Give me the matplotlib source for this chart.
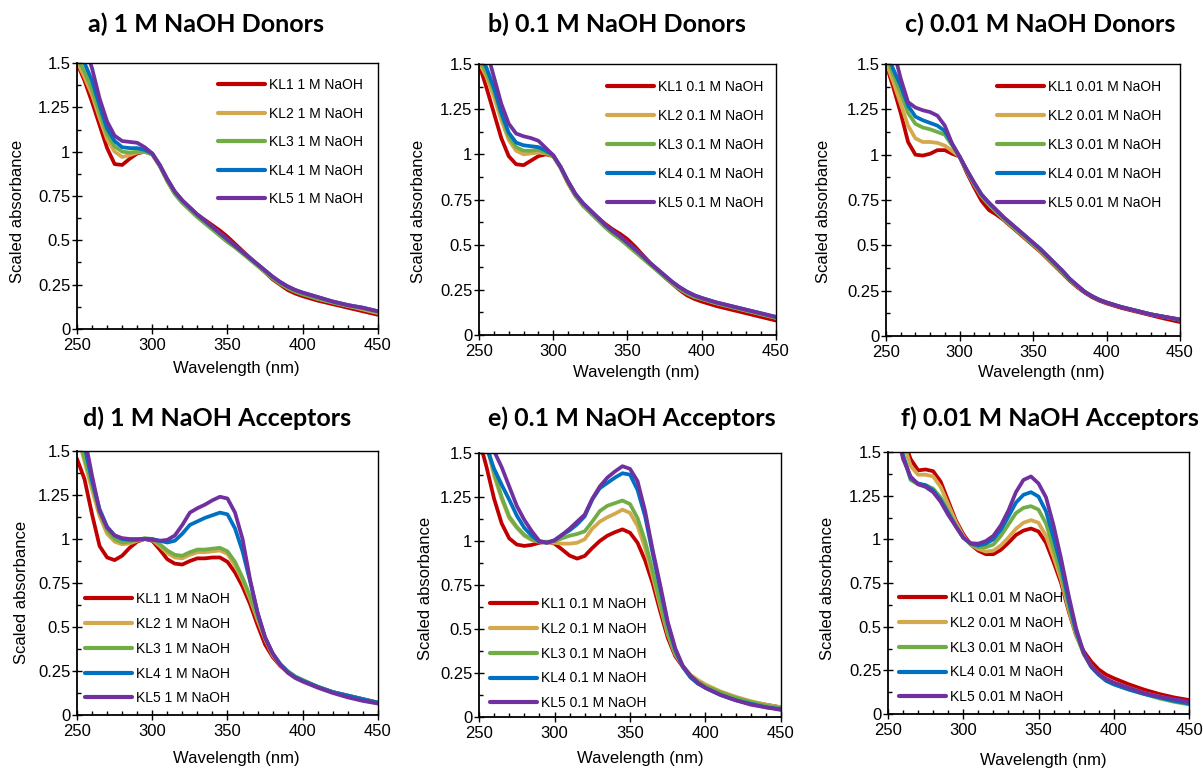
import matplotlib
matplotlib.use("Agg")
import matplotlib.pyplot as plt
from matplotlib.ticker import MultipleLocator

# ---------------- data ----------------
wavelength = [250, 255, 260, 265, 270, 275, 280, 285, 290, 295, 300, 305, 310, 315, 320, 325,
              330, 335, 340, 345, 350, 355, 360, 365, 370, 375, 380, 385, 390, 395, 400,
              410, 420, 430, 440, 450]

series_names = ["KL1", "KL2", "KL3", "KL4", "KL5"]

# a) 1 M NaOH donors
a_kl1 = [1.50, 1.40, 1.28, 1.15, 1.02, 0.93, 0.925, 0.96, 0.99, 1.00, 0.985, 0.92, 0.835, 0.765, 0.72, 0.68,
         0.645, 0.615, 0.585, 0.555, 0.52, 0.48, 0.44, 0.40, 0.36, 0.32, 0.28, 0.25, 0.22, 0.20, 0.185,
         0.16, 0.14, 0.12, 0.10, 0.08]
a_kl2 = [1.51, 1.42, 1.32, 1.19, 1.07, 1.00, 0.97, 0.98, 0.995, 1.00, 0.985, 0.92, 0.835, 0.765, 0.715, 0.675,
         0.635, 0.60, 0.565, 0.53, 0.495, 0.465, 0.43, 0.395, 0.36, 0.325, 0.29, 0.26, 0.235, 0.215, 0.20,
         0.17, 0.15, 0.13, 0.11, 0.09]
a_kl3 = [1.53, 1.45, 1.35, 1.22, 1.10, 1.03, 1.00, 0.995, 1.00, 1.00, 0.985, 0.92, 0.835, 0.76, 0.71, 0.67,
         0.63, 0.595, 0.56, 0.525, 0.49, 0.46, 0.425, 0.39, 0.355, 0.32, 0.285, 0.255, 0.23, 0.21, 0.195,
         0.17, 0.15, 0.13, 0.115, 0.095]
a_kl4 = [1.58, 1.50, 1.40, 1.26, 1.13, 1.06, 1.025, 1.02, 1.02, 1.01, 0.99, 0.925, 0.845, 0.775, 0.725, 0.685,
         0.645, 0.61, 0.575, 0.54, 0.505, 0.47, 0.435, 0.40, 0.365, 0.33, 0.295, 0.265, 0.24, 0.22, 0.205,
         0.18, 0.155, 0.135, 0.12, 0.10]
a_kl5 = [1.70, 1.60, 1.47, 1.30, 1.17, 1.09, 1.06, 1.055, 1.05, 1.025, 0.99, 0.925, 0.845, 0.775, 0.725, 0.685,
         0.645, 0.61, 0.575, 0.54, 0.505, 0.47, 0.435, 0.40, 0.365, 0.33, 0.295, 0.265, 0.24, 0.22, 0.205,
         0.18, 0.155, 0.135, 0.12, 0.10]

# b) 0.1 M NaOH donors
b_kl1 = [1.50, 1.37, 1.23, 1.09, 0.99, 0.945, 0.94, 0.965, 0.99, 1.00, 0.99, 0.925, 0.84, 0.77, 0.725, 0.685,
         0.65, 0.615, 0.585, 0.56, 0.53, 0.49, 0.445, 0.40, 0.36, 0.32, 0.285, 0.25, 0.22, 0.20, 0.185,
         0.16, 0.14, 0.12, 0.10, 0.08]
b_kl2 = [1.51, 1.43, 1.32, 1.19, 1.08, 1.02, 1.00, 1.005, 1.01, 1.005, 0.99, 0.925, 0.84, 0.77, 0.72, 0.68,
         0.64, 0.60, 0.565, 0.535, 0.50, 0.465, 0.43, 0.395, 0.36, 0.325, 0.29, 0.26, 0.235, 0.215, 0.20,
         0.175, 0.155, 0.135, 0.115, 0.095]
b_kl3 = [1.53, 1.45, 1.35, 1.22, 1.10, 1.04, 1.02, 1.02, 1.025, 1.01, 0.99, 0.925, 0.84, 0.77, 0.715, 0.675,
         0.635, 0.595, 0.56, 0.53, 0.495, 0.46, 0.425, 0.39, 0.355, 0.32, 0.285, 0.255, 0.23, 0.21, 0.20,
         0.175, 0.155, 0.135, 0.115, 0.095]
b_kl4 = [1.56, 1.48, 1.37, 1.23, 1.12, 1.065, 1.05, 1.045, 1.04, 1.02, 0.995, 0.93, 0.85, 0.78, 0.73, 0.69,
         0.65, 0.61, 0.575, 0.545, 0.51, 0.475, 0.44, 0.40, 0.365, 0.33, 0.295, 0.265, 0.24, 0.22, 0.205,
         0.18, 0.16, 0.14, 0.12, 0.10]
b_kl5 = [1.70, 1.58, 1.43, 1.28, 1.17, 1.115, 1.10, 1.09, 1.075, 1.035, 0.995, 0.93, 0.85, 0.78, 0.73, 0.69,
         0.65, 0.61, 0.575, 0.545, 0.51, 0.475, 0.44, 0.40, 0.365, 0.33, 0.295, 0.265, 0.24, 0.22, 0.205,
         0.18, 0.16, 0.14, 0.12, 0.10]

# c) 0.01 M NaOH donors
c_kl1 = [1.50, 1.37, 1.23, 1.07, 1.00, 0.995, 1.005, 1.025, 1.025, 1.005, 0.99, 0.90, 0.82, 0.745, 0.695, 0.67,
         0.64, 0.605, 0.57, 0.535, 0.50, 0.465, 0.425, 0.385, 0.345, 0.305, 0.27, 0.24, 0.215, 0.195, 0.18,
         0.155, 0.135, 0.115, 0.095, 0.077]
c_kl2 = [1.51, 1.40, 1.28, 1.16, 1.09, 1.07, 1.07, 1.065, 1.05, 1.02, 0.99, 0.91, 0.835, 0.77, 0.725, 0.685,
         0.645, 0.61, 0.575, 0.54, 0.505, 0.47, 0.43, 0.39, 0.35, 0.31, 0.275, 0.245, 0.22, 0.20, 0.185,
         0.16, 0.14, 0.12, 0.105, 0.09]
c_kl3 = [1.55, 1.44, 1.34, 1.23, 1.17, 1.15, 1.14, 1.125, 1.11, 1.05, 0.99, 0.91, 0.835, 0.77, 0.725, 0.685,
         0.645, 0.61, 0.575, 0.54, 0.505, 0.47, 0.43, 0.39, 0.35, 0.31, 0.275, 0.245, 0.22, 0.20, 0.185,
         0.16, 0.14, 0.12, 0.105, 0.09]
c_kl4 = [1.58, 1.47, 1.38, 1.27, 1.21, 1.19, 1.175, 1.16, 1.13, 1.06, 0.99, 0.915, 0.845, 0.78, 0.735, 0.695,
         0.655, 0.62, 0.585, 0.55, 0.515, 0.48, 0.44, 0.40, 0.36, 0.315, 0.28, 0.245, 0.22, 0.20, 0.185,
         0.16, 0.14, 0.12, 0.105, 0.09]
c_kl5 = [1.70, 1.58, 1.42, 1.29, 1.26, 1.245, 1.235, 1.215, 1.16, 1.06, 0.99, 0.915, 0.845, 0.78, 0.735, 0.695,
         0.655, 0.62, 0.585, 0.55, 0.515, 0.48, 0.44, 0.40, 0.36, 0.315, 0.28, 0.245, 0.22, 0.20, 0.185,
         0.16, 0.14, 0.12, 0.105, 0.092]

# d) 1 M NaOH acceptors
d_kl1 = [1.455, 1.34, 1.14, 0.96, 0.895, 0.88, 0.905, 0.95, 0.985, 1.00, 0.99, 0.94, 0.885, 0.86, 0.855, 0.875,
         0.89, 0.89, 0.895, 0.895, 0.87, 0.81, 0.73, 0.63, 0.51, 0.40, 0.33, 0.28, 0.245, 0.215, 0.195,
         0.16, 0.13, 0.11, 0.09, 0.07]
d_kl2 = [1.60, 1.44, 1.28, 1.13, 1.03, 0.985, 0.97, 0.975, 0.99, 1.00, 0.995, 0.96, 0.92, 0.895, 0.89, 0.91,
         0.925, 0.925, 0.93, 0.935, 0.915, 0.85, 0.765, 0.66, 0.54, 0.43, 0.34, 0.285, 0.245, 0.215, 0.195,
         0.16, 0.13, 0.11, 0.09, 0.07]
d_kl3 = [1.62, 1.46, 1.31, 1.15, 1.05, 1.00, 0.98, 0.985, 0.995, 1.005, 1.00, 0.97, 0.935, 0.91, 0.905, 0.925,
         0.94, 0.94, 0.945, 0.95, 0.93, 0.87, 0.78, 0.675, 0.555, 0.44, 0.35, 0.29, 0.25, 0.22, 0.20,
         0.16, 0.13, 0.11, 0.09, 0.07]
d_kl4 = [1.75, 1.53, 1.33, 1.17, 1.07, 1.02, 1.00, 0.995, 0.995, 1.00, 1.00, 0.99, 0.98, 0.99, 1.03, 1.08,
         1.10, 1.12, 1.135, 1.15, 1.14, 1.06, 0.93, 0.76, 0.58, 0.44, 0.35, 0.29, 0.245, 0.215, 0.195,
         0.16, 0.13, 0.11, 0.09, 0.07]
d_kl5 = [1.80, 1.58, 1.36, 1.16, 1.065, 1.02, 1.005, 1.00, 1.00, 1.00, 0.995, 0.99, 0.995, 1.02, 1.08, 1.15,
         1.175, 1.195, 1.22, 1.24, 1.23, 1.15, 1.00, 0.77, 0.58, 0.44, 0.35, 0.285, 0.24, 0.21, 0.19,
         0.155, 0.125, 0.10, 0.08, 0.065]

# e) 0.1 M NaOH acceptors
e_kl1 = [1.58, 1.42, 1.24, 1.10, 1.015, 0.98, 0.972, 0.978, 0.99, 0.996, 0.985, 0.952, 0.917, 0.90, 0.915, 0.96,
         1.00, 1.03, 1.05, 1.066, 1.047, 0.99, 0.89, 0.76, 0.60, 0.45, 0.345, 0.285, 0.23, 0.19, 0.17,
         0.13, 0.10, 0.085, 0.07, 0.055]
e_kl2 = [1.68, 1.55, 1.37, 1.24, 1.13, 1.075, 1.03, 1.005, 0.995, 0.99, 0.99, 0.985, 0.985, 0.99, 1.01, 1.07,
         1.11, 1.135, 1.155, 1.178, 1.16, 1.085, 0.96, 0.80, 0.63, 0.47, 0.355, 0.29, 0.24, 0.21, 0.185,
         0.145, 0.115, 0.09, 0.07, 0.055]
e_kl3 = [1.70, 1.56, 1.39, 1.25, 1.14, 1.08, 1.035, 1.01, 0.998, 0.995, 1.00, 1.015, 1.03, 1.04, 1.055, 1.11,
         1.17, 1.20, 1.215, 1.23, 1.21, 1.13, 1.00, 0.83, 0.65, 0.48, 0.36, 0.29, 0.235, 0.20, 0.175,
         0.14, 0.11, 0.085, 0.065, 0.05]
e_kl4 = [1.72, 1.53, 1.41, 1.32, 1.235, 1.145, 1.075, 1.03, 0.995, 0.99, 1.005, 1.035, 1.06, 1.095, 1.14, 1.235,
         1.30, 1.33, 1.36, 1.385, 1.377, 1.29, 1.14, 0.93, 0.73, 0.53, 0.38, 0.285, 0.225, 0.19, 0.165,
         0.125, 0.095, 0.075, 0.055, 0.045]
e_kl5 = [1.85, 1.68, 1.51, 1.42, 1.31, 1.20, 1.12, 1.055, 1.00, 0.99, 1.003, 1.035, 1.07, 1.11, 1.15, 1.24,
         1.31, 1.36, 1.395, 1.425, 1.41, 1.34, 1.17, 0.95, 0.75, 0.54, 0.39, 0.29, 0.235, 0.195, 0.165,
         0.125, 0.095, 0.07, 0.055, 0.04]

# f) 0.01 M NaOH acceptors
f_kl1 = [1.85, 1.70, 1.58, 1.46, 1.395, 1.40, 1.39, 1.33, 1.22, 1.11, 1.03, 0.97, 0.935, 0.915, 0.915, 0.94,
         0.98, 1.025, 1.05, 1.062, 1.045, 0.98, 0.87, 0.75, 0.59, 0.45, 0.36, 0.30, 0.255, 0.225, 0.205,
         0.17, 0.14, 0.115, 0.095, 0.08]
f_kl2 = [1.85, 1.70, 1.56, 1.42, 1.37, 1.37, 1.36, 1.30, 1.20, 1.10, 1.02, 0.97, 0.945, 0.93, 0.935, 0.965,
         1.01, 1.06, 1.095, 1.11, 1.095, 1.02, 0.90, 0.77, 0.60, 0.45, 0.345, 0.275, 0.23, 0.20, 0.18,
         0.15, 0.12, 0.10, 0.08, 0.065]
f_kl3 = [1.80, 1.65, 1.48, 1.34, 1.315, 1.31, 1.29, 1.24, 1.16, 1.08, 1.01, 0.97, 0.955, 0.955, 0.97, 1.02,
         1.085, 1.15, 1.18, 1.19, 1.17, 1.09, 0.95, 0.80, 0.62, 0.46, 0.345, 0.27, 0.225, 0.19, 0.17,
         0.14, 0.115, 0.09, 0.07, 0.055]
f_kl4 = [1.80, 1.65, 1.48, 1.35, 1.32, 1.31, 1.28, 1.225, 1.15, 1.075, 1.01, 0.975, 0.965, 0.975, 1.00, 1.055,
         1.13, 1.21, 1.255, 1.27, 1.245, 1.16, 1.01, 0.85, 0.65, 0.475, 0.35, 0.27, 0.225, 0.19, 0.17,
         0.14, 0.115, 0.095, 0.075, 0.06]
f_kl5 = [1.80, 1.65, 1.46, 1.36, 1.315, 1.30, 1.27, 1.215, 1.14, 1.075, 1.01, 0.978, 0.975, 0.99, 1.02, 1.08,
         1.165, 1.27, 1.34, 1.36, 1.32, 1.24, 1.08, 0.89, 0.68, 0.49, 0.35, 0.275, 0.23, 0.20, 0.18,
         0.15, 0.12, 0.10, 0.085, 0.07]

titles = ["a) 1 M NaOH Donors", "b) 0.1 M NaOH Donors", "c) 0.01 M NaOH Donors",
          "d) 1 M NaOH Acceptors", "e) 0.1 M NaOH Acceptors", "f) 0.01 M NaOH Acceptors"]
concentrations = ["1 M NaOH", "0.1 M NaOH", "0.01 M NaOH", "1 M NaOH", "0.1 M NaOH", "0.01 M NaOH"]
panel_series = [
    [a_kl1, a_kl2, a_kl3, a_kl4, a_kl5],
    [b_kl1, b_kl2, b_kl3, b_kl4, b_kl5],
    [c_kl1, c_kl2, c_kl3, c_kl4, c_kl5],
    [d_kl1, d_kl2, d_kl3, d_kl4, d_kl5],
    [e_kl1, e_kl2, e_kl3, e_kl4, e_kl5],
    [f_kl1, f_kl2, f_kl3, f_kl4, f_kl5],
]

# ---------------- styling / layout ----------------
colors = ["#C00000", "#D4A84C", "#70AD47", "#0070C0", "#7030A0"]
W, H = 1203, 769
TXT = ["Liberation Sans", "DejaVu Sans"]
TITLE_FONT = ["Lato", "DejaVu Sans"]

# axes boxes in pixels: left, top, right, bottom
boxes = [(77, 63, 378, 329), (479, 64, 776, 335), (886, 64, 1180, 336),
         (77, 451, 378, 715), (479, 453, 781, 717), (888, 452, 1189, 714)]
# title centres (px)
title_pos = [(206, 24), (617, 24), (1040, 24), (217, 418), (632, 418), (1050, 418)]
# ylabel centres (px)
ylab_pos = [(18, 211), (418, 211), (823, 211), (22, 592), (425, 588), (827, 588)]
# xlabel centres (px)
xlab_pos = [(236, 369), (636, 372), (1041, 372), (236, 759), (640, 759), (1043, 760)]
# legend: handle left x, first-row centre y, row spacing factor
leg_pos = [(218, 83, 1.05), (607, 85, 1.08), (997, 85, 1.08),
           (85, 597, 0.78), (490, 602, 0.78), (899, 596, 0.78)]

fig = plt.figure(figsize=(W / 100, H / 100), dpi=100)
fig.patch.set_facecolor("white")

for i in range(6):
    l, t, r, b = boxes[i]
    ax = fig.add_axes([l / W, 1 - b / H, (r - l) / W, (b - t) / H])
    handles = []
    for name, vals, col in zip(series_names, panel_series[i], colors):
        h, = ax.plot(wavelength, vals, color=col, lw=2.7, solid_capstyle="round",
                     solid_joinstyle="round", label=f"{name} {concentrations[i]}")
        handles.append(h)
    ax.set_xlim(250, 450)
    ax.set_ylim(0, 1.5)
    ax.xaxis.set_major_locator(MultipleLocator(50))
    ax.xaxis.set_minor_locator(MultipleLocator(10))
    ax.yaxis.set_minor_locator(MultipleLocator(0.125))
    ax.set_yticks([0, 0.25, 0.5, 0.75, 1.0, 1.25, 1.5])
    ax.set_yticklabels(["0", "0.25", "0.5", "0.75", "1", "1.25", "1.5"])
    ax.tick_params(axis="both", which="major", direction="inout", length=6.5, width=1.0,
                   labelsize=12, color="black")
    ax.tick_params(axis="both", which="minor", direction="in", length=3.2, width=1.0)
    ax.tick_params(axis="x", which="major", pad=3)
    ax.tick_params(axis="y", which="major", pad=1.5)
    for lab in ax.get_xticklabels() + ax.get_yticklabels():
        lab.set_fontfamily(TXT)
    for s in ["top", "right"]:
        ax.spines[s].set_linewidth(1.0)
    for s in ["left", "bottom"]:
        ax.spines[s].set_linewidth(1.3)

    # legend
    hx, hy, ls = leg_pos[i]
    leg = ax.legend(handles=handles, loc="upper left",
                    bbox_to_anchor=(hx / W, 1 - (hy - 5) / H), bbox_transform=fig.transFigure,
                    frameon=False, borderpad=0, borderaxespad=0, handlelength=3.4,
                    handletextpad=0.3, labelspacing=ls,
                    prop={"family": TXT, "size": 10})
    for lh in leg.get_lines():
        lh.set_linewidth(3.0)

    tx, ty = title_pos[i]
    fig.text(tx / W, 1 - ty / H, titles[i], ha="center", va="center",
             fontsize=18, fontweight="bold", family=TITLE_FONT)
    yx, yy = ylab_pos[i]
    fig.text(yx / W, 1 - yy / H, "Scaled absorbance", rotation=90, ha="center", va="center",
             fontsize=12, family=TXT)
    xx, xy = xlab_pos[i]
    fig.text(xx / W, 1 - xy / H, "Wavelength (nm)", ha="center", va="center",
             fontsize=12, family=TXT)

fig.savefig("out.png", dpi=100, facecolor="white")
